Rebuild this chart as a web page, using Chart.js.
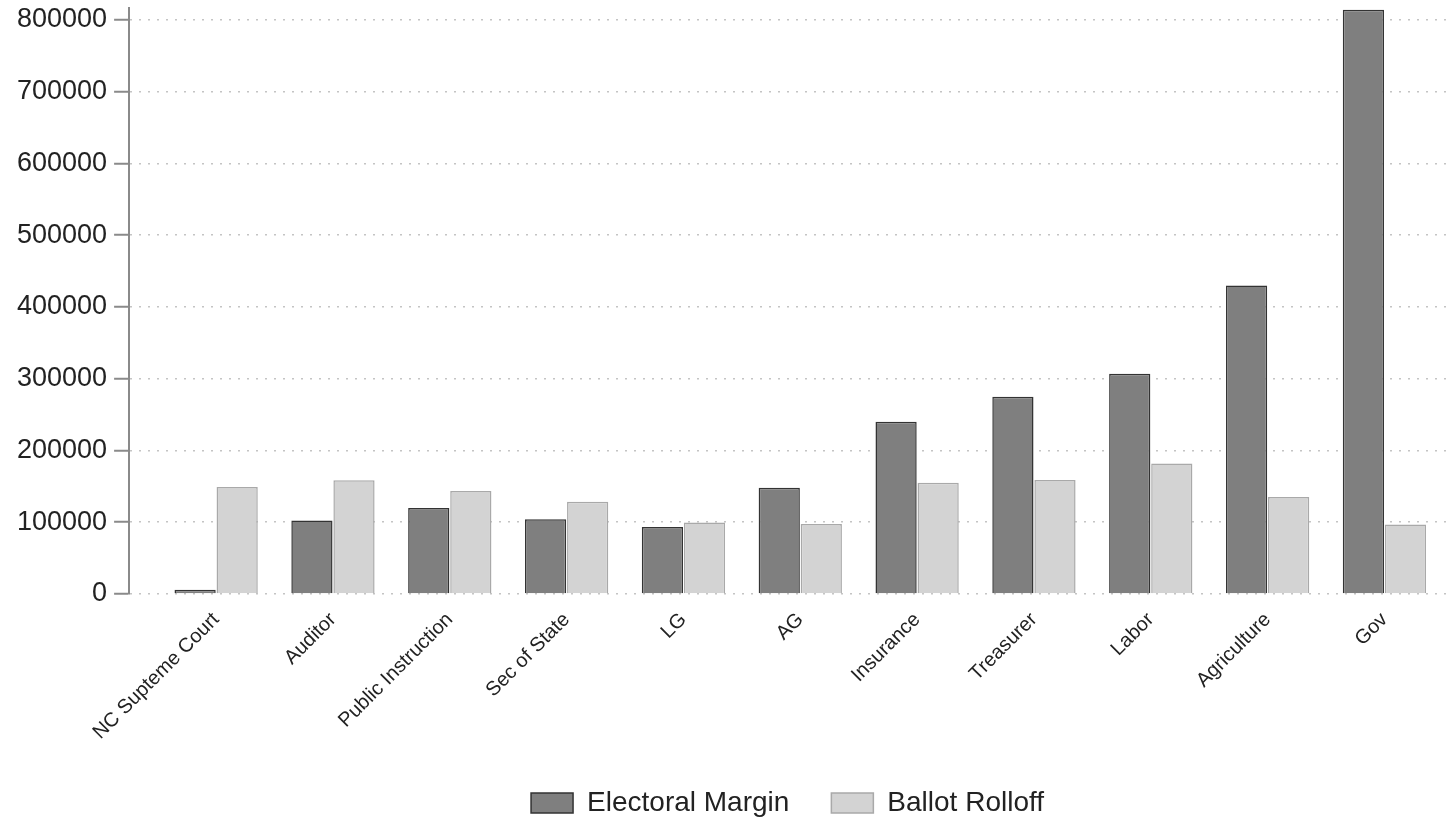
<!DOCTYPE html>
<html>
<head>
<meta charset="utf-8">
<script src="https://cdn.jsdelivr.net/npm/chart.js@4/dist/chart.umd.min.js"></script>
<style>
  html, body { margin: 0; padding: 0; background: #fff; overflow: hidden; }
  .wrap { width: 1446px; height: 822px; }
</style>
</head>
<body>
<div class="wrap"><canvas id="chart"></canvas></div>
<script>
const categories = ["NC Supteme Court", "Auditor", "Public Instruction", "Sec of State", "LG", "AG",
    "Insurance", "Treasurer", "Labor", "Agriculture", "Gov"];
const electoralMargin = [6000, 102500, 120000, 104000, 93500, 148000, 240000, 275000, 307000, 430000, 814000];
const ballotRolloff = [149000, 158500, 143500, 128500, 99500, 97500, 155000, 159000, 182000, 135000, 97000];
const yTicks = [0, 100000, 200000, 300000, 400000, 500000, 600000, 700000, 800000];

const font = "'Liberation Sans', Arial, Helvetica, sans-serif";

const points = values => values.map((v, i) => ({ x: i, y: v }));

new Chart(document.getElementById("chart"), {
    type: "bar",
    data: {
        datasets: [
            {
                label: "Electoral Margin",
                data: points(electoralMargin),
                backgroundColor: "#7f7f7f",
                borderColor: "#333333",
                borderWidth: 1.5
            },
            {
                label: "Ballot Rolloff",
                data: points(ballotRolloff),
                backgroundColor: "#d3d3d3",
                borderColor: "#a9a9a9",
                borderWidth: 1.5
            }
        ]
    },
    options: {
        responsive: true,
        maintainAspectRatio: false,
        animation: false,
        categoryPercentage: 0.72,
        barPercentage: 0.98,
        layout: {
            padding: { left: 10, right: 0, top: 0, bottom: -5 }
        },
        plugins: {
            legend: {
                position: "bottom",
                fullSize: false,
                labels: {
                    boxWidth: 42,
                    boxHeight: 20,
                    padding: 42,
                    color: "#222",
                    font: { family: font, size: 28 }
                }
            },
            tooltip: { enabled: false }
        },
        scales: {
            x: {
                type: "linear",
                offset: false,
                min: -0.745,
                max: 10.527,
                // labels end well above the legend, trim the spare bottom padding
                afterFit: scale => { scale.height = 153; },
                grid: { display: false, drawTicks: false },
                border: { display: false },
                ticks: {
                    stepSize: 1,
                    includeBounds: false,
                    autoSkip: false,
                    maxRotation: 45,
                    minRotation: 45,
                    padding: 14,
                    color: "#222",
                    font: { family: font, size: 20 },
                    callback: v => Number.isInteger(v) ? categories[v] : ""
                }
            },
            y: {
                min: 0,
                max: 816000,
                afterBuildTicks: scale => {
                    scale.ticks = yTicks.map(v => ({ value: v }));
                },
                grid: {
                    color: "#c4c4c4",
                    lineWidth: 1.5,
                    tickColor: "#8a8a8a",
                    tickWidth: 2,
                    tickBorderDash: [],
                    tickLength: 15
                },
                border: { display: true, color: "#8a8a8a", width: 2, dash: [2, 7] },
                ticks: {
                    padding: 7,
                    color: "#222",
                    font: { family: font, size: 27, lineHeight: 0.1 },
                    callback: v => String(v)
                }
            }
        }
    }
});
</script>
</body>
</html>
